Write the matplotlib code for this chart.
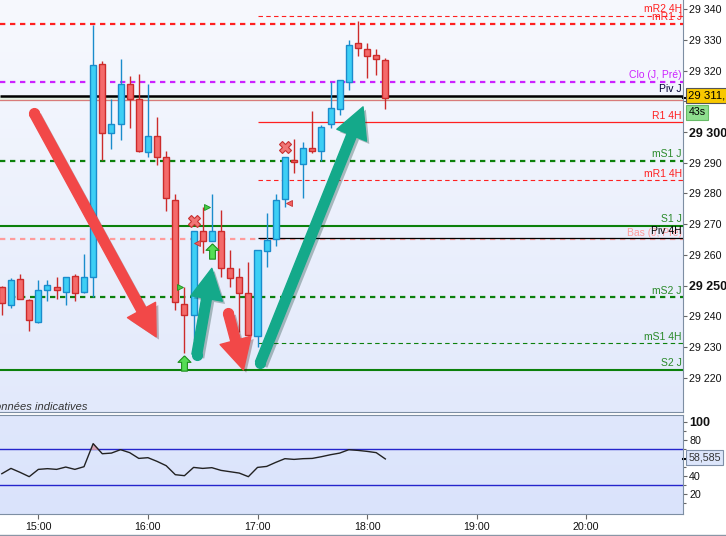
import matplotlib
matplotlib.use("Agg")
import matplotlib.pyplot as plt
import matplotlib.dates as mdates
import matplotlib.patheffects as pe
import matplotlib.transforms as mtransforms
from matplotlib.colors import LinearSegmentedColormap
from matplotlib.lines import Line2D
import numpy as np
import pandas as pd

plt.rcParams['font.family'] = ['Liberation Sans', 'DejaVu Sans']

jour = "2024-01-02 "
heures = ["14:40", "14:45", "14:50", "14:55", "15:00", "15:05", "15:10", "15:15", "15:20", "15:25",
          "15:30", "15:35", "15:40", "15:45", "15:50", "15:55", "16:00", "16:05", "16:10", "16:15",
          "16:20", "16:25", "16:30", "16:35", "16:40", "16:45", "16:50", "16:55", "17:00", "17:05",
          "17:10", "17:15", "17:20", "17:25", "17:30", "17:35", "17:40", "17:45", "17:50", "17:55",
          "18:00", "18:05", "18:10"]
ouv = [29249.6, 29243.7, 29252.1, 29245.2, 29238.0, 29248.5, 29249.4, 29248.0, 29253.0, 29248.0,
       29252.7, 29322.2, 29299.6, 29302.5, 29315.7, 29310.7, 29293.6, 29298.7, 29291.8, 29277.8,
       29243.9, 29240.5, 29267.8, 29264.6, 29267.8, 29255.6, 29252.7, 29247.5, 29233.4, 29261.3,
       29265.0, 29278.1, 29290.8, 29289.5, 29294.7, 29293.7, 29302.5, 29307.6, 29316.4, 29328.9,
       29327.0, 29325.0, 29323.4]
haut = [29250.0, 29252.5, 29253.8, 29245.5, 29251.8, 29251.8, 29252.8, 29252.7, 29253.8, 29260.3,
        29334.9, 29323.0, 29310.8, 29323.8, 29318.3, 29318.9, 29315.7, 29304.9, 29293.8, 29279.8,
        29249.4, 29267.8, 29275.5, 29279.8, 29274.6, 29261.6, 29255.8, 29257.8, 29261.6, 29273.6,
        29279.8, 29291.8, 29297.7, 29296.9, 29306.9, 29302.3, 29316.4, 29316.9, 29330.0, 29336.2,
        29328.9, 29327.0, 29324.0]
bas = [29240.4, 29242.7, 29245.5, 29235.3, 29237.7, 29245.1, 29245.5, 29243.8, 29245.1, 29247.5,
       29246.2, 29290.9, 29294.5, 29297.4, 29301.4, 29293.6, 29291.7, 29289.3, 29274.4, 29242.1,
       29227.9, 29232.3, 29260.5, 29264.6, 29252.7, 29249.4, 29235.0, 29233.4, 29230.1, 29256.0,
       29263.0, 29275.5, 29286.6, 29278.6, 29293.1, 29290.7, 29301.2, 29305.6, 29313.7, 29324.9,
       29317.5, 29318.6, 29307.6]
clot = [29244.4, 29251.8, 29245.5, 29238.7, 29248.5, 29250.1, 29248.5, 29252.7, 29247.5, 29252.7,
        29321.9, 29299.6, 29302.6, 29315.7, 29310.7, 29293.9, 29298.7, 29291.7, 29278.6, 29244.6,
        29240.5, 29267.8, 29264.6, 29267.8, 29255.6, 29252.6, 29247.5, 29233.9, 29261.6, 29264.9,
        29277.9, 29291.8, 29290.2, 29294.7, 29293.7, 29301.6, 29307.8, 29316.9, 29328.4, 29327.3,
        29324.9, 29323.9, 29311.0]
rsi = [42.2, 48.1, 43.7, 38.9, 47.0, 47.8, 47.0, 49.6, 47.0, 50.0,
       75.6, 64.4, 65.1, 68.9, 65.6, 59.2, 60.0, 55.9, 51.1, 41.1,
       40.0, 49.2, 48.1, 48.9, 45.9, 44.4, 42.9, 38.9, 49.2, 50.3,
       54.8, 58.9, 58.1, 58.9, 59.2, 61.1, 63.3, 65.1, 68.9, 68.1,
       67.0, 65.6, 58.6]
rsi_dernier = "58,585"

# niveaux pivots
niv_noms = ["mR2 4H", "mR1 J", "Clo (J, Pré)", "Piv J", "R1 4H", "mS1 J", "mR1 4H",
            "S1 J", "Bas (J, Pré)", "Piv 4H", "mS2 J", "mS1 4H", "S2 J"]
niv_prix = [29337.8, 29335.3, 29316.4, 29311.8, 29303.2, 29290.7, 29284.3,
            29269.5, 29265.1, 29265.6, 29246.1, 29231.2, 29222.5]
ligne_prix = 29310.3
prix_label = "29 311,"
chrono = "43s"

croix_t = ["16:25", "17:15"]
croix_p = [29271.0, 29295.2]
flvert_t = ["16:20", "16:35"]
flvert_p = [29224.7, 29261.3]
trivert_t = ["16:17:30", "16:32:30"]
trivert_p = [29249.4, 29275.5]
trirouge_t = ["16:27", "17:17"]
trirouge_p = [29264.0, 29276.8]

# grosses fleches (queue -> pointe)
fl_queue_t = ["14:57:36", "16:26:42", "16:44:00", "17:01:24"]
fl_queue_p = [29306.2, 29227.4, 29241.0, 29224.7]
fl_pointe_t = ["16:04:30", "16:35:00", "16:52:18", "17:57:48"]
fl_pointe_p = [29233.3, 29255.6, 29222.5, 29308.2]
fl_couleur = ["#f24848", "#14a98a", "#f24848", "#14a98a"]

ROUGE = "#ff2020"
VERT = "#0b800b"
styles = {
    "mR2 4H": dict(color=ROUGE, lw=0.8, ls=(0, (4, 3)), h4=True),
    "mR1 J": dict(color=ROUGE, lw=1.6, ls=(0, (2.4, 2.1)), h4=False),
    "Clo (J, Pré)": dict(color="#cc22ff", lw=1.6, ls=(0, (2.4, 2.1)), h4=False),
    "Piv J": dict(color="#000000", lw=1.8, ls="-", h4=False, tc="#000033"),
    "R1 4H": dict(color=ROUGE, lw=0.9, ls="-", h4=True),
    "mS1 J": dict(color=VERT, lw=1.6, ls=(0, (2.4, 2.1)), h4=False, tc="#2a8a2a"),
    "mR1 4H": dict(color=ROUGE, lw=0.8, ls=(0, (4, 3)), h4=True),
    "S1 J": dict(color=VERT, lw=1.5, ls="-", h4=False, tc="#2a8a2a"),
    "Bas (J, Pré)": dict(color="#ff9c9c", lw=1.6, ls=(0, (2.4, 2.1)), h4=False),
    "Piv 4H": dict(color="#000000", lw=0.9, ls="-", h4=True),
    "mS2 J": dict(color=VERT, lw=1.6, ls=(0, (2.4, 2.1)), h4=False, tc="#2a8a2a"),
    "mS1 4H": dict(color=VERT, lw=0.8, ls=(0, (4, 3)), h4=True, tc="#2a8a2a"),
    "S2 J": dict(color=VERT, lw=1.5, ls="-", h4=False, tc="#2a8a2a"),
}


def tn(h):
    return mdates.date2num(pd.Timestamp(jour + h))


def fond(a, c_haut, c_bas):
    cmap = LinearSegmentedColormap.from_list("fond", [c_bas, c_haut])
    a.imshow(np.linspace(0, 1, 256).reshape(-1, 1), extent=[0, 1, 0, 1], transform=a.transAxes,
             cmap=cmap, aspect='auto', origin='lower', zorder=0, interpolation='bicubic')


t = np.array([tn(h) for h in heures])
o = np.array(ouv)
h = np.array(haut)
l = np.array(bas)
c = np.array(clot)
r = np.array(rsi)

t0 = tn("15:00")
xlim = (t0 - 21 / 1440, t0 + 353 / 1440)
ylim = (29208.9, 29343.0)

fig = plt.figure(figsize=(7.26, 5.36), dpi=100)
ax = fig.add_axes([0, 0.2319, 0.9408, 0.7681])
ax2 = fig.add_axes([0, 0.041, 0.9408, 0.1847])

fond(ax, "#f7f9fe", "#e2e9fb")
fond(ax2, "#dfe7fc", "#dae3fb")

# zone entre pivot et prix
ax.axhspan(ligne_prix, niv_prix[3], color="#e2f0e2", zorder=1)

# niveaux
blend = mtransforms.blended_transform_factory(ax.transAxes, ax.transData)
for nom, p in zip(niv_noms, niv_prix):
    s = styles[nom]
    x0 = tn("17:00") if s["h4"] else xlim[0]
    ax.hlines(p, x0, xlim[1], color=s["color"], lw=s["lw"], linestyles=[s["ls"]], zorder=2)
ax.axhline(ligne_prix, color="#d97b7b", lw=0.9, zorder=2)
for nom, p in zip(niv_noms, niv_prix):
    s = styles[nom]
    ax.text(0.998, p + 0.5, nom, transform=blend, ha='right', va='bottom', fontsize=7.5,
            color=s.get("tc", s["color"]), zorder=3)

# bougies
hausse = c >= o
larg = 3.3 / 1440
corps = np.maximum(np.abs(c - o), 0.4)
for m, fc, ec in [(hausse, "#3dcff5", "#1a8ccc"), (~hausse, "#f46a6a", "#cc2b2b")]:
    ax.vlines(t[m], l[m], h[m], color=ec, lw=1, zorder=4)
    ax.bar(t[m], corps[m], bottom=np.minimum(o, c)[m], width=larg, color=fc, edgecolor=ec,
           linewidth=1, zorder=5)

# marqueurs
fleche_haut = [(0, 1), (-0.85, 0.15), (-0.38, 0.15), (-0.38, -1), (0.38, -1), (0.38, 0.15),
               (0.85, 0.15), (0, 1)]
ax.plot([tn(x) for x in croix_t], croix_p, 'X', ms=9, mfc="#f07676", mec="#c83030", mew=0.8,
        ls='none', zorder=6)
ax.plot([tn(x) for x in flvert_t], flvert_p, marker=fleche_haut, ms=11, mfc="#55dd55",
        mec="#1e8f1e", mew=0.8, ls='none', zorder=6)
ax.plot([tn(x) for x in trivert_t], trivert_p, '>', ms=5, mfc="#44cc44", mec="#1e8f1e",
        mew=0.6, ls='none', zorder=6)
ax.plot([tn(x) for x in trirouge_t], trirouge_p, '<', ms=5, mfc="#f06060", mec="#c83030",
        mew=0.6, ls='none', zorder=6)

# grosses fleches
for qt, qp, pt, pp, col in zip(fl_queue_t, fl_queue_p, fl_pointe_t, fl_pointe_p, fl_couleur):
    ax.annotate("", xy=(tn(pt), pp), xytext=(tn(qt), qp), zorder=7,
                arrowprops=dict(arrowstyle="simple,head_length=22,head_width=23,tail_width=7",
                                mutation_scale=1, color=col, shrinkA=0, shrinkB=0,
                                path_effects=[pe.SimplePatchShadow(offset=(2, -2), alpha=0.3),
                                              pe.Normal()]))
    ax.plot(tn(qt), qp, 'o', ms=7, color=col, zorder=7)

ax.text(-13 / 683, 0.004, "Données indicatives", transform=ax.transAxes, fontsize=8,
        style='italic', color="#333333", va='baseline', ha='left')

ax.set_xlim(xlim)
ax.set_ylim(ylim)
ticks = np.arange(29220, 29341, 10)
labels = ["" if v == 29310 else f"{v:,}".replace(",", " ") for v in ticks]
ax.set_yticks(ticks, labels)
ax.yaxis.tick_right()
ax.tick_params(axis='y', direction='out', length=3, width=0.8, colors="#666666",
               labelcolor="#111111", labelsize=7.7, pad=1.5)
ax.tick_params(axis='x', bottom=False, labelbottom=False)
for lbl in ax.get_yticklabels():
    if lbl.get_text() in ("29 300", "29 250"):
        lbl.set_fontweight('bold')
        lbl.set_fontsize(9)
for sp in ["left", "top"]:
    ax.spines[sp].set_visible(False)
for sp in ["right", "bottom"]:
    ax.spines[sp].set_color("#7d8ea3")

ax.plot([1.0, 1.008], [c[-1], c[-1]], transform=blend, color='k', lw=1.5, clip_on=False)
ax.text(1.008, c[-1] + 1.0, prix_label, transform=blend, ha='left', va='center', fontsize=8.2,
        bbox=dict(boxstyle='square,pad=0.22', fc="#f8c800", ec="#555555", lw=0.8))
ax.text(1.008, c[-1] - 4.6, chrono, transform=blend, ha='left', va='center', fontsize=7.7,
        bbox=dict(boxstyle='square,pad=0.22', fc="#8fdf8f", ec="#66bb66", lw=0.8))

# indicateur
ax2.axhline(70, color="#2424cc", lw=1, zorder=2)
ax2.axhline(30, color="#2424cc", lw=1, zorder=2)
ax2.fill_between(t, r, 70, where=r > 70, interpolate=True, color="#d8a2b4", zorder=2)
ax2.plot(t, r, color="#222222", lw=1, zorder=3)
ax2.set_xlim(xlim)
ax2.set_ylim(-2.6, 107.4)
ax2.yaxis.tick_right()
ax2.set_yticks([20, 40, 80, 100], ["20", "40", "80", "100"])
ax2.set_yticks([10, 30, 50, 70, 90], minor=True)
ax2.tick_params(axis='y', which='major', direction='out', length=3, width=0.8, colors="#666666",
                labelcolor="#111111", labelsize=7.7, pad=1.5)
ax2.tick_params(axis='y', which='minor', direction='out', length=2, width=0.8, colors="#666666")
ax2.get_yticklabels()[-1].set_fontweight('bold')
ax2.get_yticklabels()[-1].set_fontsize(9)
ax2.xaxis.set_major_locator(mdates.HourLocator())
ax2.xaxis.set_major_formatter(mdates.DateFormatter('%H:%M'))
ax2.tick_params(axis='x', direction='out', length=3.5, width=0.8, colors="#666666",
                labelcolor="#111111", labelsize=7.7, pad=2)
ax2.spines['left'].set_visible(False)
for sp in ["right", "bottom", "top"]:
    ax2.spines[sp].set_color("#7d8ea3")
blend2 = mtransforms.blended_transform_factory(ax2.transAxes, ax2.transData)
ax2.plot([1.0, 1.008], [r[-1], r[-1]], transform=blend2, color='k', lw=1.5, clip_on=False)
ax2.text(1.008, r[-1] + 1.5, rsi_dernier, transform=blend2, ha='left', va='center', fontsize=7.7,
         color="#333333", bbox=dict(boxstyle='square,pad=0.22', fc="#dde6fb", ec="#7f8fa8", lw=0.8))

fig.add_artist(Line2D([0, 1], [0.001, 0.001], transform=fig.transFigure, color="#8a96a6", lw=1))

fig.savefig("out.png", dpi=100)
